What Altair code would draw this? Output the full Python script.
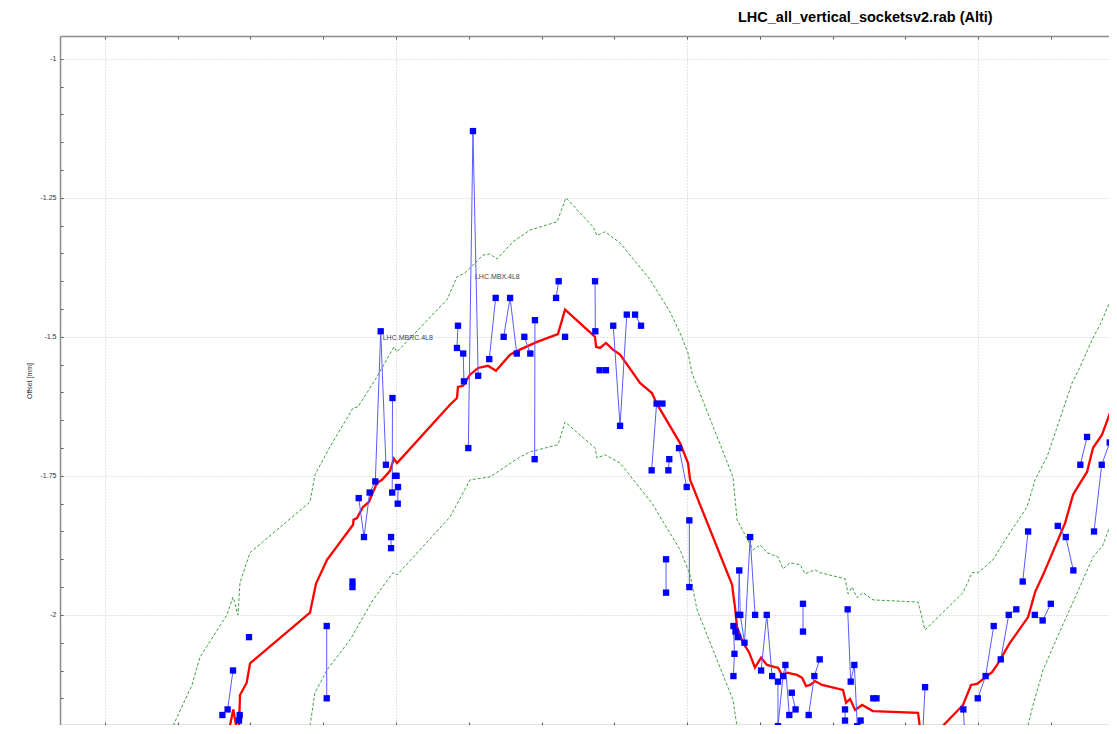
import altair as alt
import pandas as pd

# ---------------- data ----------------
# fitted (red) curve
red_x = [23083.2, 23088.2, 23091.8, 23092.8, 23097.4, 23099.7, 23140.9, 23145.0, 23152.6, 23170.5,
         23170.8, 23173.2, 23177.3, 23181.4, 23186.9, 23190.4, 23195.9, 23198.6, 23200.7, 23237.1,
         23241.9, 23242.6, 23246.1, 23250.9, 23256.4, 23263.2, 23268.7, 23278.4, 23285.2, 23296.9,
         23311.3, 23316.2, 23336.8, 23337.5, 23340.2, 23344.3, 23349.1, 23354.0, 23367.7, 23375.9,
         23379.4, 23395.2, 23400.7, 23402.1, 23431.0, 23431.6, 23433.0, 23434.4, 23438.5, 23442.6,
         23446.7, 23450.9, 23455.0, 23460.5, 23462.6, 23465.3, 23468.8, 23475.6, 23479.1, 23481.8,
         23484.6, 23488.0, 23492.8, 23507.2, 23509.3, 23512.0, 23515.5, 23520.3, 23527.8, 23558.8,
         23561.5, 23568.4, 23575.3, 23589.7, 23595.2, 23599.3, 23609.6, 23613.1, 23622.0, 23634.4,
         23639.2, 23644.7, 23659.8, 23665.3, 23670.1, 23674.9, 23679.0, 23685.2, 23692.8, 23701.0]
red_y = [-2.234, -2.170, -2.225, -2.144, -2.122, -2.087, -1.996, -1.944, -1.901, -1.838,
         -1.829, -1.826, -1.806, -1.797, -1.763, -1.757, -1.741, -1.719, -1.727, -1.622,
         -1.610, -1.590, -1.588, -1.568, -1.556, -1.552, -1.561, -1.532, -1.523, -1.509,
         -1.495, -1.451, -1.500, -1.518, -1.520, -1.511, -1.523, -1.532, -1.583, -1.601,
         -1.621, -1.691, -1.727, -1.757, -1.946, -1.959, -1.987, -2.022, -2.050, -2.067,
         -2.095, -2.077, -2.090, -2.094, -2.095, -2.108, -2.104, -2.108, -2.113, -2.128,
         -2.126, -2.119, -2.126, -2.135, -2.158, -2.151, -2.171, -2.162, -2.173, -2.176,
         -2.234, -2.261, -2.201, -2.162, -2.126, -2.124, -2.103, -2.090, -2.050, -2.004,
         -1.959, -1.928, -1.835, -1.784, -1.763, -1.743, -1.700, -1.676, -1.622, -1.568]

# tolerance band (green, dashed)
upper_x = [23043.3, 23046.7, 23059.8, 23065.3, 23083.8, 23088.0, 23091.4, 23092.8, 23099.7, 23140.9,
           23144.3, 23154.6, 23170.5, 23173.9, 23186.9, 23198.6, 23200.7, 23235.1, 23241.9, 23247.4,
           23259.8, 23264.6, 23269.4, 23280.4, 23292.1, 23310.7, 23316.8, 23335.4, 23338.2, 23343.6,
           23354.0, 23374.6, 23388.3, 23395.2, 23400.7, 23403.4, 23431.6, 23434.4, 23445.4, 23450.2,
           23455.0, 23462.6, 23466.0, 23470.8, 23477.7, 23481.1, 23488.0, 23491.4, 23508.6, 23510.7,
           23513.4, 23516.8, 23521.0, 23527.8, 23558.8, 23563.6, 23589.7, 23595.9, 23600.0, 23610.3,
           23619.9, 23633.7, 23639.2, 23647.4, 23664.6, 23670.1, 23679.0, 23683.9, 23692.8, 23701.0]
upper_y = [-2.234, -2.200, -2.126, -2.076, -2.000, -1.968, -2.000, -1.942, -1.888, -1.797,
           -1.748, -1.698, -1.628, -1.626, -1.572, -1.518, -1.527, -1.433, -1.392, -1.385,
           -1.353, -1.351, -1.360, -1.329, -1.308, -1.293, -1.250, -1.302, -1.318, -1.311,
           -1.331, -1.397, -1.455, -1.493, -1.529, -1.565, -1.752, -1.829, -1.883, -1.874,
           -1.888, -1.896, -1.917, -1.906, -1.910, -1.926, -1.919, -1.924, -1.935, -1.962,
           -1.950, -1.969, -1.960, -1.973, -1.977, -2.027, -1.960, -1.924, -1.924, -1.901,
           -1.860, -1.806, -1.757, -1.716, -1.583, -1.554, -1.502, -1.478, -1.424, -1.371]
lower_a_x = [23137.5, 23140.9, 23144.3, 23152.6, 23168.4, 23184.2, 23197.9, 23200.7, 23237.1, 23250.9,
             23264.6, 23285.2, 23292.1, 23311.3, 23316.2, 23336.8, 23338.2, 23343.6, 23354.0, 23375.9,
             23395.2, 23402.1, 23406.9, 23431.6, 23434.4, 23437.8]
lower_a_y = [-2.234, -2.200, -2.140, -2.099, -2.045, -1.973, -1.924, -1.928, -1.824, -1.757,
             -1.752, -1.716, -1.707, -1.694, -1.653, -1.700, -1.718, -1.712, -1.727, -1.799,
             -1.883, -1.928, -1.991, -2.153, -2.201, -2.261]
lower_b_x = [23632.3, 23634.4, 23637.8, 23644.7, 23654.3, 23665.3, 23679.0, 23685.9, 23692.8, 23701.0]
lower_b_y = [-2.234, -2.198, -2.162, -2.099, -2.041, -1.977, -1.896, -1.874, -1.824, -1.770]

# measured sockets (blue), grouped into connected runs
blue_group = [1,
              2, 2, 3, 3, 4, 5, 5, 6, 6,
              7, 7, 7, 7, 7, 7, 8, 8, 9, 9, 10, 10, 11, 11,
              12, 12, 13, 13, 14, 14, 14, 15, 15, 16, 16, 16, 17, 17, 18, 18,
              19, 19, 20, 21, 21, 22, 22, 23, 23, 23, 24, 24, 25, 25, 25,
              26, 26, 27, 27, 28, 28, 29, 29,
              30, 30, 30, 31, 31, 32, 32, 32, 32, 32, 32, 33, 33, 33,
              34, 34, 34, 34, 34, 35, 35, 36, 36, 37, 37, 37, 38, 38,
              39, 39, 39, 39, 39, 40, 40, 41, 41, 42, 42,
              43, 43, 43, 44, 44, 44, 45, 45, 46, 46, 46, 47, 47, 47, 48, 48, 49, 49, 49]
blue_x = [23080.7,
          23084.3, 23088.0, 23092.6, 23092.1, 23099.0, 23152.4, 23152.4, 23170.1, 23170.1,
          23174.4, 23178.0, 23181.9, 23185.8, 23189.5, 23193.1, 23197.6, 23197.4, 23196.6, 23196.6,
          23199.5, 23200.4, 23201.4, 23201.2,
          23242.6, 23241.9, 23246.2, 23246.7, 23249.7, 23252.9, 23256.5, 23264.1, 23268.5,
          23274.0, 23278.4, 23283.0, 23288.2, 23292.3, 23295.5, 23295.3,
          23310.0, 23311.8, 23316.2, 23336.8, 23337.0, 23339.9, 23344.3, 23349.3, 23354.0, 23358.6,
          23364.3, 23368.4, 23375.7, 23379.1, 23383.1,
          23385.6, 23385.6, 23387.8, 23387.2, 23394.5, 23399.8, 23401.6, 23401.6,
          23431.9, 23432.6, 23431.9, 23433.3, 23434.9, 23435.2, 23435.9, 23436.6, 23439.5, 23443.4,
          23446.8, 23450.9, 23454.8, 23458.5,
          23462.5, 23462.5, 23466.0, 23467.6, 23470.3, 23472.0, 23474.6, 23479.7, 23479.7,
          23483.6, 23487.5, 23491.2, 23508.6, 23508.6,
          23510.4, 23512.5, 23515.0, 23517.0, 23519.3, 23528.0, 23530.2, 23563.6, 23561.3,
          23589.9, 23591.7,
          23599.8, 23605.2, 23610.8, 23615.6, 23621.1, 23626.3, 23630.7, 23634.4, 23639.0, 23644.4,
          23650.0, 23654.8, 23660.3, 23665.5, 23670.3, 23674.9, 23679.7, 23685.0, 23690.5]
blue_y = [-2.18,
          -2.17, -2.10, -2.18, -2.19, -2.04, -2.02, -2.15, -1.94, -1.95,
          -1.79, -1.86, -1.78, -1.76, -1.49, -1.73, -1.61, -1.78, -1.86, -1.88,
          -1.75, -1.75, -1.77, -1.80,
          -1.48, -1.52, -1.53, -1.58, -1.70, -1.13, -1.57, -1.54, -1.43,
          -1.50, -1.43, -1.53, -1.50, -1.53, -1.47, -1.72,
          -1.43, -1.40, -1.50, -1.40, -1.49, -1.56, -1.56, -1.48, -1.66, -1.46,
          -1.46, -1.48, -1.74, -1.62, -1.62,
          -1.90, -1.96, -1.72, -1.74, -1.70, -1.77, -1.83, -1.95,
          -2.11, -2.07, -2.02, -2.03, -2.04, -2.00, -1.92, -2.00, -2.05, -1.86,
          -2.00, -2.10, -2.00, -2.11,
          -2.12, -2.20, -2.11, -2.09, -2.18, -2.14, -2.17, -1.98, -2.03,
          -2.18, -2.11, -2.08, -2.17, -2.19,
          -1.99, -2.12, -2.09, -2.20, -2.19, -2.15, -2.15, -2.13, -2.25,
          -2.17, -2.25,
          -2.15, -2.11, -2.02, -2.08, -2.00, -1.99, -1.94, -1.85, -2.00, -2.01,
          -1.98, -1.84, -1.86, -1.92, -1.73, -1.68, -1.85, -1.73, -1.69]

# element labels
label_text = ["LHC.MBRC.4L8", "LHC.MBX.4L8"]
label_x = [23189.5, 23252.9]
label_y = [-1.502, -1.392]

# axis ticks
x_ticks = list(range(23000, 23700, 50))
y_ticks = [round(-2.15 + 0.05 * k, 2) for k in range(24)]

X_DOMAIN = [22969.1, 23690.0]
Y_DOMAIN = [-2.198, -0.959]

# ---------------- tables ----------------
red_df = pd.DataFrame({"x": red_x, "y": red_y, "i": range(len(red_x))})
band_df = pd.concat([
    pd.DataFrame({"x": upper_x, "y": upper_y, "s": "upper"}),
    pd.DataFrame({"x": lower_a_x, "y": lower_a_y, "s": "lower_a"}),
    pd.DataFrame({"x": lower_b_x, "y": lower_b_y, "s": "lower_b"}),
], ignore_index=True)
band_df["i"] = range(len(band_df))
blue_df = pd.DataFrame({"x": blue_x, "y": blue_y, "g": blue_group, "i": range(len(blue_x))})
lab_df = pd.DataFrame({"x": label_x, "y": label_y, "t": label_text})

FONT = "Liberation Sans"
AX_COL = "#8c8c8c"

is_major_x = "datum.value % 200 === 0"
is_major_y = "abs(datum.value * 4 - round(datum.value * 4)) < 0.001"

x_bottom = alt.Axis(
    values=x_ticks, orient="bottom", title=None,
    labelExpr=f"{is_major_x} ? toString(datum.value) : ''",
    labelFontSize=7, labelColor="#333333", labelFont=FONT,
    grid=True, gridDash=[1, 2], gridColor="#c8c8c8",
    gridOpacity={"condition": {"test": is_major_x, "value": 1}, "value": 0},
    tickSize={"expr": "-3"}, labelPadding=6, tickColor="#555555",
    domainColor=AX_COL, domainWidth=1.5,
)
x_top = alt.Axis(
    values=x_ticks, orient="top", title=None, labels=False, grid=False,
    tickSize={"expr": "-3"}, tickColor="#555555",
    domainColor=AX_COL, domainWidth=1.5,
)
y_axis = alt.Axis(
    values=y_ticks, title="Offset [mm]", titleFontSize=7, titleFontWeight="normal",
    titleColor="#333333", titleFont=FONT, titlePadding=8,
    labelExpr=f"{is_major_y} ? toString(datum.value) : ''",
    labelFontSize=7, labelColor="#333333", labelFont=FONT,
    grid=True, gridDash=[1, 2], gridColor="#c8c8c8",
    gridOpacity={"condition": {"test": is_major_y, "value": 1}, "value": 0},
    tickSize={"expr": "-3"}, labelPadding=7, tickColor="#555555",
    domainColor=AX_COL, domainWidth=1.5,
)

xs = alt.Scale(domain=X_DOMAIN, nice=False, zero=False)
ys = alt.Scale(domain=Y_DOMAIN, nice=False, zero=False)


def X(axis):
    return alt.X("x:Q", scale=xs, axis=axis)


Y = alt.Y("y:Q", scale=ys, axis=y_axis)

band = alt.Chart(band_df).mark_line(
    clip=True, color="#3f9f3f", strokeWidth=1, strokeDash=[3, 2]
).encode(x=X(x_bottom), y=Y, detail="s:N", order="i:Q")

red = alt.Chart(red_df).mark_line(
    clip=True, color="#ff0000", strokeWidth=2.3
).encode(x=X(x_top), y=Y, order="i:Q")

blue_line = alt.Chart(blue_df).mark_line(
    clip=True, color="#5a5aff", strokeWidth=1
).encode(x=X(None), y=Y, detail="g:N", order="i:Q")

blue_pts = alt.Chart(blue_df).mark_square(
    clip=True, color="#0000ff", size=40, opacity=1
).encode(x=X(None), y=Y)

labels = alt.Chart(lab_df).mark_text(
    align="left", baseline="middle", dx=2, fontSize=7, font=FONT, color="#444444"
).encode(x=X(None), y=Y, text="t:N")

chart = alt.layer(band, red, blue_line, blue_pts, labels).resolve_axis(
    x="independent"
).properties(
    width=1049, height=689,
    autosize=alt.AutoSizeParams(type="none"),
    padding={"left": 52, "top": 28, "right": 0, "bottom": 0},
    title=alt.TitleParams(
        "LHC_all_vertical_socketsv2.rab (Alti)", anchor="start", frame="group",
        dx=678, dy=8, fontSize=14.5, fontWeight="bold", font=FONT, color="#000000",
        baseline="bottom", offset=4,
    ),
).configure_view(stroke=None).configure(background="white")

chart.save("out.html", embed_options={"renderer": "svg", "actions": False})
